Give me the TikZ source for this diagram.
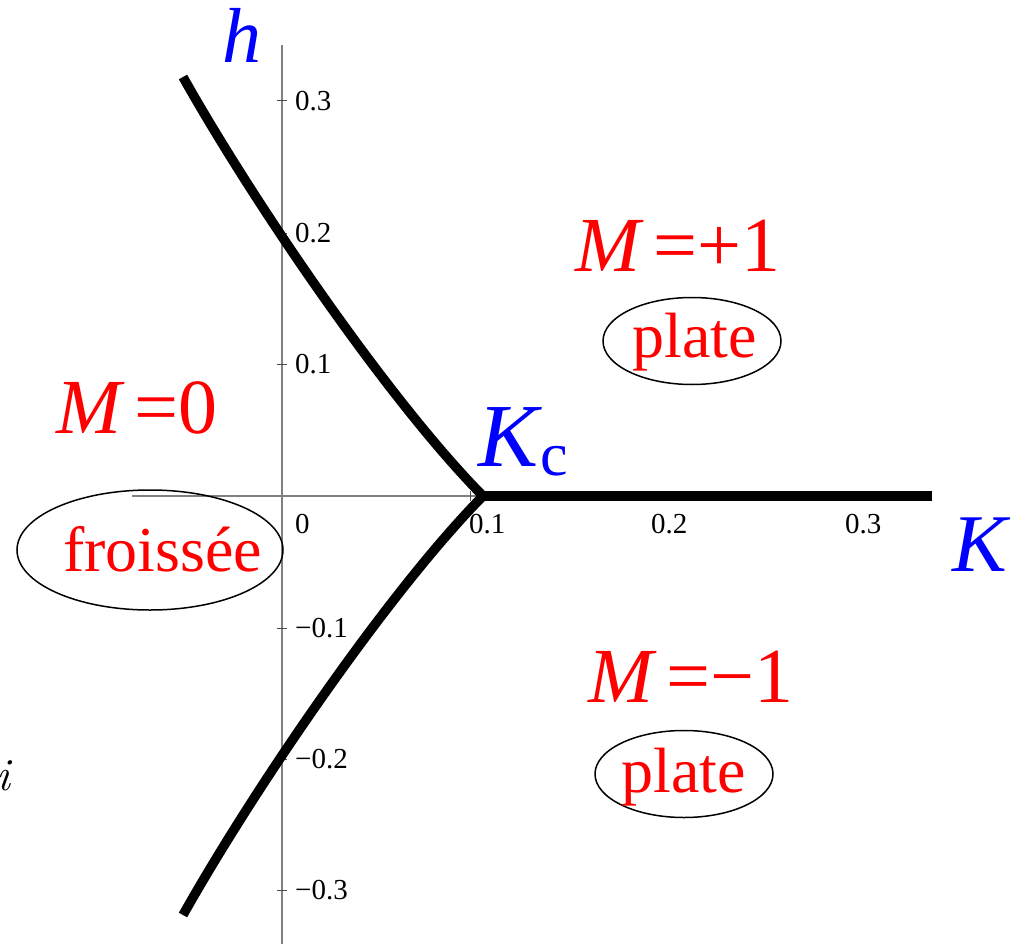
\documentclass[tikz,border=0pt]{standalone}
\usepackage{fontspec}
\setmainfont{Liberation Serif}
\newfontfamily\lmfont{Latin Modern Roman}
\begin{document}
\begin{tikzpicture}[x=1pt,y=-1pt,
  axis/.style={draw=black!50, line width=1.2pt},
  tickmark/.style={draw=black!70, line width=1pt},
  ticklab/.style={font=\fontsize{29}{31}\selectfont, inner sep=0pt},
  region/.style={text=red, font=\fontsize{78}{80}\selectfont, inner sep=0pt, anchor=base west},
  phase/.style={text=red, font=\fontsize{64}{66}\selectfont, inner sep=0pt, anchor=base west},
  ring/.style={draw=black, line width=1.5pt},
  axlab/.style={text=blue, inner sep=0pt, anchor=base west},
  branch/.style={line width=9.5pt, line join=miter, miter limit=10}]
\useasboundingbox (0,0) rectangle (1019,944);
% axes
\coordinate (hx0) at (132,496); \coordinate (hx1) at (932,496);
\coordinate (vy0) at (282,45); \coordinate (vy1) at (282,944);
\draw[axis] (hx0) -- (hx1);
\draw[axis] (vy0) -- (vy1);
% vertical ticks
\foreach \y/\l in {101/0.3, 233/0.2, 364/0.1, 628/−0.1, 759/−0.2, 890/−0.3}{
  \draw[tickmark] (277,\y) -- (287,\y);
  \node[ticklab, anchor=west] at (295,\y) {\l};
}
% horizontal ticks
\foreach \x in {470,664,858}{ \draw[tickmark] (\x,491) -- (\x,501); }
\node[ticklab, anchor=base west] (t0) at (295,533) {0};
\node[ticklab, anchor=base west] (t1) at (469,533) {0.1};
\node[ticklab, anchor=base west] (t2) at (651,533) {0.2};
\node[ticklab, anchor=base west] (t3) at (845,533) {0.3};
% phase boundary
\coordinate (top) at (183,77);
\coordinate (cusp) at (483,496);
\coordinate (bot) at (183,915);
\coordinate (kend) at (932,496);
\draw[branch] (top) .. controls (255,205) and (390,402) .. (cusp) .. controls (390,590) and (255,787) .. (bot);
\draw[line width=10pt] (cusp) -- (kend);
% ellipses
\draw[ring] (150,550) ellipse [x radius=133pt, y radius=60pt];
\draw[ring] (692,341) ellipse [x radius=89pt, y radius=43.5pt];
\draw[ring] (684,774) ellipse [x radius=89pt, y radius=43.5pt];
% region labels
\node[region] (m0) at (56,433) {\textit{M}\hspace{10pt}=0};
\node[region] (mp) at (575,271) {\textit{M}\hspace{10pt}=+1};
\node[region] (mm) at (588,702) {\textit{M}\hspace{10pt}=−1};
\node[phase] (fr) at (63,571) {froissée};
\node[phase] (pu) at (632,357) {plate};
\node[phase] (pl) at (621,792) {plate};
% axis labels
\node[axlab, font=\itshape\fontsize{90}{92}\selectfont] (kc) at (478,466) {K};
\node[axlab, font=\fontsize{62}{64}\selectfont] (kcsub) at (540,475) {c};
\node[axlab, font=\itshape\fontsize{82}{84}\selectfont] (kl) at (952,571) {K};
\node[axlab, font=\itshape\fontsize{78}{80}\selectfont] (hl) at (222,63) {h};
\node[inner sep=0pt, anchor=base east, font=\lmfont\itshape\fontsize{46}{48}\selectfont] (ii) at (10,790) {i};
\end{tikzpicture}
\end{document}
